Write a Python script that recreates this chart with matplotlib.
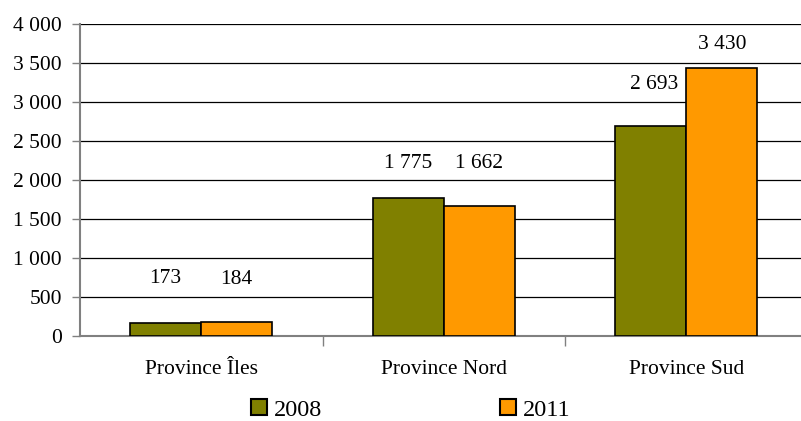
import matplotlib.pyplot as plt
import matplotlib.patches as mpatches
import numpy as np

plt.rcParams['font.family'] = ['Liberation Serif', 'DejaVu Serif']

categories = ["Province Îles", "Province Nord", "Province Sud"]
years = ["2008", "2011"]
v2008 = [173, 1775, 2693]
v2011 = [184, 1662, 3430]
colors = ["#808000", "#FF9900"]


def fmt(v):
    # séparateur de milliers : espace
    return f"{v:,}".replace(",", " ")


fig = plt.figure(figsize=(8.01, 4.21), dpi=100)
ax = fig.add_axes([80 / 801, (421 - 336) / 421, (801 - 80) / 801, 312 / 421])

x = np.arange(len(categories))
w = 0.293
ax.bar(x - w / 2, v2008, w, color=colors[0], edgecolor="black", linewidth=1.2, zorder=3)
ax.bar(x + w / 2, v2011, w, color=colors[1], edgecolor="black", linewidth=1.2, zorder=3)

# étiquettes de valeurs (décalages en pixels, comme sur l'original)
off1 = [(0, 44), (0, 34), (3, 41)]
off2 = [(0, 42), (0, 43), (0, 24)]
for i in range(len(categories)):
    ax.annotate(fmt(v2008[i]), (x[i] - w / 2, v2008[i]), xytext=off1[i],
                textcoords="offset pixels", ha="center", va="center", fontsize=15.5)
    ax.annotate(fmt(v2011[i]), (x[i] + w / 2, v2011[i]), xytext=off2[i],
                textcoords="offset pixels", ha="center", va="center", fontsize=15.5)

ax.set_ylim(0, 4000)
ax.set_xlim(-0.5, -0.5 + 721 / 242.5)
ax.set_yticks(np.arange(0, 4001, 500))
ax.set_yticklabels([fmt(v) for v in range(0, 4001, 500)], fontsize=15.5)
ax.yaxis.grid(True, color="black", linewidth=0.9, zorder=0)
ax.set_axisbelow(True)

ax.set_xticks([0.5, 1.5])
ax.set_xticklabels([])
ax.set_xticks(x, minor=True)
ax.set_xticklabels(categories, minor=True, fontsize=15.5)
ax.tick_params(axis="x", which="minor", length=0, pad=17)
ax.tick_params(axis="x", which="major", length=7, color="gray", width=1)
ax.tick_params(axis="y", length=6, color="gray", width=1, pad=7)

for s in ["top", "right"]:
    ax.spines[s].set_visible(False)
ax.spines["left"].set_color("gray")
ax.spines["bottom"].set_color("gray")
ax.spines["left"].set_linewidth(1.5)
ax.spines["bottom"].set_linewidth(1.5)

handles = [mpatches.Patch(facecolor=c, edgecolor="black", linewidth=1.5) for c in colors]
fig.legend(handles, years, loc="center", bbox_to_anchor=(411 / 801, 1 - 410 / 421),
           ncol=2, frameon=False, fontsize=17.5, handlelength=0.65, handleheight=0.65,
           handletextpad=0.3, columnspacing=7.3, borderpad=0)

fig.savefig("out.png", dpi=100)
